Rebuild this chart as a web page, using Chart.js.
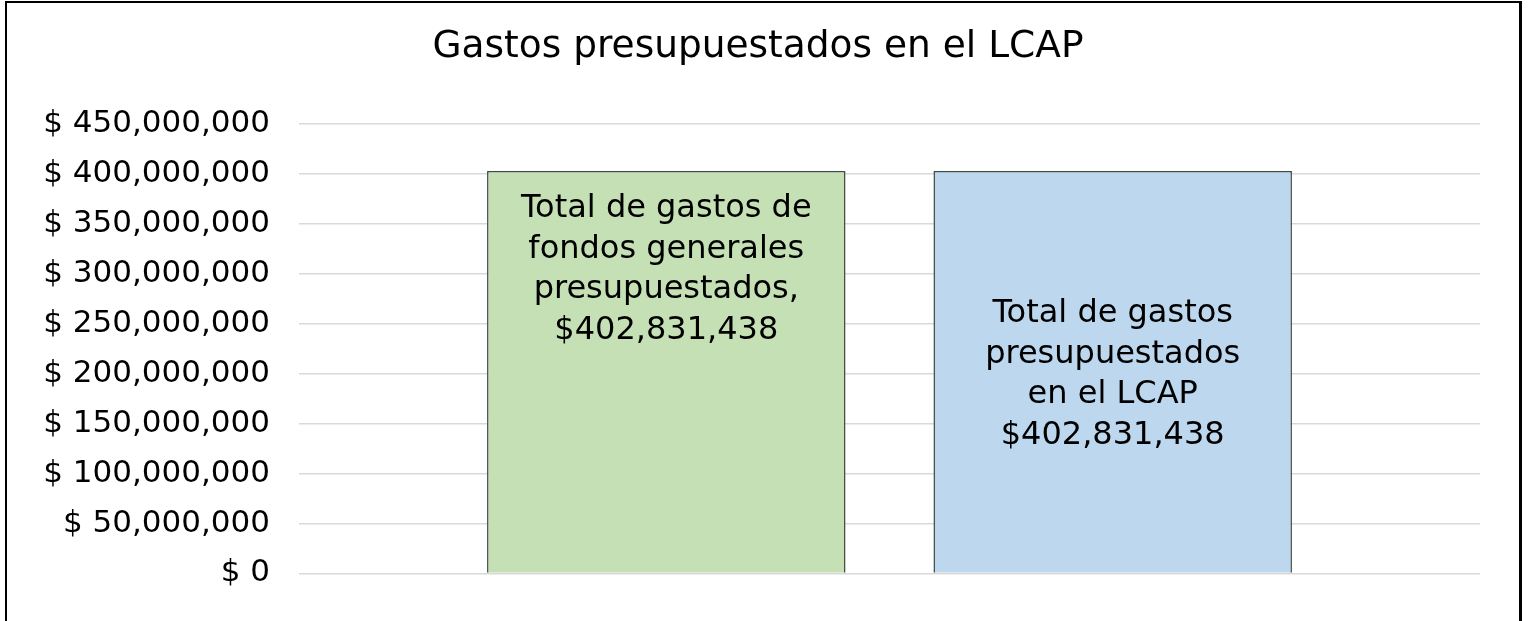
<!DOCTYPE html>
<html>
<head>
<meta charset="utf-8">
<script src="https://cdn.jsdelivr.net/npm/chart.js@4.4.0/dist/chart.umd.min.js"></script>
<style>
html, body { margin: 0; padding: 0; background: #fff; }
#frame {
    position: absolute; left: 5px; top: 1px;
    width: 1512px; height: 620px;
    border-left: 2px solid #000; border-top: 2px solid #000; border-right: 3px solid #000;
    overflow: hidden;
}
canvas { display: block; }
</style>
</head>
<body>
<div id="frame"><canvas id="chartContainer" width="1512" height="618"></canvas></div>
<script>
// 数据
var categories = [''];
var seriesNames = ['Total de gastos de fondos generales presupuestados', 'Total de gastos presupuestados en el LCAP'];
var seriesValues = [402831438, 402831438];
var seriesColors = ['#c5e0b4', '#bdd7ee'];
var labelLines = [
    ['Total de gastos de', 'fondos generales', 'presupuestados,', '$402,831,438'],
    ['Total de gastos', 'presupuestados', 'en el LCAP', '$402,831,438']
];
var yMax = 450000000;
var yStep = 50000000;

var fontFamily = "'DejaVu Sans', sans-serif";

// 柱内文字
var barLabels = {
    id: 'barLabels',
    afterDatasetsDraw: function (chart) {
        var ctx = chart.ctx;
        var offsets = [46.3, 151.3]; // 第一行基线相对柱顶的位置
        ctx.save();
        ctx.font = '32px ' + fontFamily;
        ctx.fillStyle = '#000';
        ctx.textAlign = 'center';
        ctx.textBaseline = 'alphabetic';
        for (var i = 0; i < chart.data.datasets.length; i++) {
            var bar = chart.getDatasetMeta(i).data[0];
            var lines = labelLines[i];
            for (var j = 0; j < lines.length; j++) {
                ctx.fillText(lines[j], bar.x, bar.y + offsets[i] + j * 40.5);
            }
        }
        ctx.restore();
    }
};

var datasets = seriesNames.map(function (name, i) {
    return {
        label: name,
        data: [seriesValues[i]],
        backgroundColor: seriesColors[i],
        borderColor: '#3f4a44',
        borderWidth: 1.5,
        categoryPercentage: 0.756,
        barPercentage: 0.803
    };
});

var ctx = document.getElementById('chartContainer').getContext('2d');
var myChart = new Chart(ctx, {
    type: 'bar',
    data: {
        labels: categories,
        datasets: datasets
    },
    options: {
        responsive: false,
        animation: false,
        devicePixelRatio: 1,
        layout: {
            padding: { left: 29, right: 39, top: 0, bottom: 43.5 }
        },
        scales: {
            x: {
                display: false
            },
            y: {
                min: 0,
                max: yMax,
                afterFit: function (scale) { scale.width = 263; },
                ticks: {
                    stepSize: yStep,
                    padding: 29,
                    color: '#000',
                    font: { family: fontFamily, size: 31 },
                    callback: function (value) {
                        return '$ ' + value.toLocaleString('en-US');
                    }
                },
                grid: {
                    color: '#d9d9d9',
                    lineWidth: 1.5,
                    drawTicks: false
                },
                border: { display: false }
            }
        },
        plugins: {
            legend: { display: false },
            tooltip: { enabled: false },
            title: {
                display: true,
                text: 'Gastos presupuestados en el LCAP',
                color: '#000',
                font: { family: fontFamily, size: 37.5, weight: 'normal' },
                padding: { top: 22, bottom: 54 }
            }
        }
    },
    plugins: [barLabels]
});
</script>
</body>
</html>
